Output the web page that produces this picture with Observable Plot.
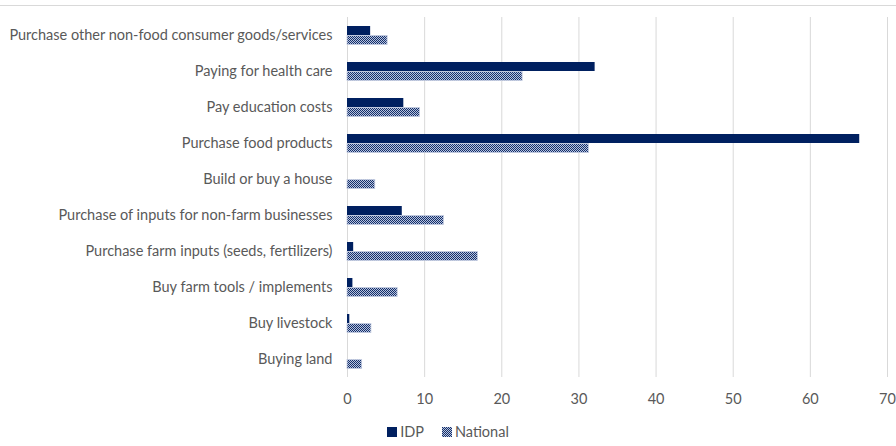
<!DOCTYPE html>
<html>
<head>
<meta charset="utf-8">
<script src="https://cdn.jsdelivr.net/npm/d3@7"></script>
<script src="https://cdn.jsdelivr.net/npm/@observablehq/plot@0.6"></script>
<style>
  html, body { margin: 0; padding: 0; background: #fff; }
  #wrap { position: relative; width: 896px; height: 446px; overflow: hidden; font-family: Lato, "Open Sans", sans-serif; }
  #topline { position: absolute; left: 0; top: 5px; width: 896px; height: 1px; background: #d9d9d9; }
  #chart { position: absolute; left: 0; top: 0; }
  #legend { position: absolute; left: 0; top: 423px; width: 896px; text-align: center; font-size: 14.5px; color: #595959; line-height: 18px; }
  #legend span.item { display: inline-flex; align-items: center; margin: 0 9px; }
  #legend svg { margin-right: 3px; }
</style>
</head>
<body>
<div id="wrap">
  <div id="topline"></div>
  <div id="chart"></div>
  <div id="legend"></div>
</div>
<script>
const categories = [
  "Purchase other non-food consumer goods/services",
  "Paying for health care",
  "Pay education costs",
  "Purchase food products",
  "Build or buy a house",
  "Purchase of inputs for non-farm businesses",
  "Purchase farm inputs (seeds, fertilizers)",
  "Buy farm tools / implements",
  "Buy livestock",
  "Buying land"
];
const idpValues = [3.0, 32.1, 7.3, 66.4, 0, 7.1, 0.8, 0.7, 0.3, 0];
const nationalValues = [5.2, 22.7, 9.4, 31.3, 3.6, 12.5, 16.9, 6.5, 3.1, 1.9];
const xTicks = [0, 10, 20, 30, 40, 50, 60, 70];
const seriesNames = ["IDP", "National"];

const idpData = categories.map((c, i) => ({category: c, value: idpValues[i]}));
const natData = categories.map((c, i) => ({category: c, value: nationalValues[i]}));

const navy = "#002060";
const patDark = "#13306c";
const patLight = "#b9c3dc";

const chart = Plot.plot({
  width: 896,
  height: 412,
  marginTop: 17,
  marginBottom: 35,
  marginLeft: 347,
  marginRight: 9,
  style: {fontFamily: "Lato, 'Open Sans', sans-serif", fontSize: "14.5px", color: "#595959", background: "transparent"},
  x: {domain: [0, 70], ticks: xTicks, tickSize: 0, tickPadding: 16, label: null, grid: false},
  y: {domain: categories, padding: 0, tickSize: 0, tickPadding: 15, label: null},
  marks: [
    Plot.ruleX(xTicks, {stroke: "#d9d9d9", strokeWidth: 1, strokeOpacity: 1}),
    Plot.barX(idpData, {x: "value", y: "category", fill: navy, insetTop: 9, insetBottom: 18}),
    Plot.barX(natData, {x: "value", y: "category", fill: "url(#natPattern)", stroke: "#c3cbe0", strokeWidth: 0.8, insetTop: 18.5, insetBottom: 8.5})
  ]
});

const defs = d3.select(chart).insert("defs", ":first-child");
const pat = defs.append("pattern").attr("id", "natPattern").attr("patternUnits", "userSpaceOnUse")
  .attr("width", 2).attr("height", 2);
pat.append("rect").attr("width", 2).attr("height", 2).attr("fill", patDark);
pat.append("rect").attr("x", 1).attr("y", 0).attr("width", 1).attr("height", 1).attr("fill", patLight);
pat.append("rect").attr("x", 0).attr("y", 1).attr("width", 1).attr("height", 1).attr("fill", patLight);

document.getElementById("chart").appendChild(chart);

// legend
const legend = document.getElementById("legend");
seriesNames.forEach((name, i) => {
  const item = document.createElement("span");
  item.className = "item";
  const sw = i === 0
    ? `<svg width="10" height="10"><rect width="10" height="10" fill="${navy}"/></svg>`
    : `<svg width="10" height="10"><defs><pattern id="legPat" patternUnits="userSpaceOnUse" width="2" height="2"><rect width="2" height="2" fill="${patDark}"/><rect x="1" y="0" width="1" height="1" fill="${patLight}"/><rect x="0" y="1" width="1" height="1" fill="${patLight}"/></pattern></defs><rect width="10" height="10" fill="url(#legPat)"/></svg>`;
  item.innerHTML = sw + `<span>${name}</span>`;
  legend.appendChild(item);
});
</script>
</body>
</html>
